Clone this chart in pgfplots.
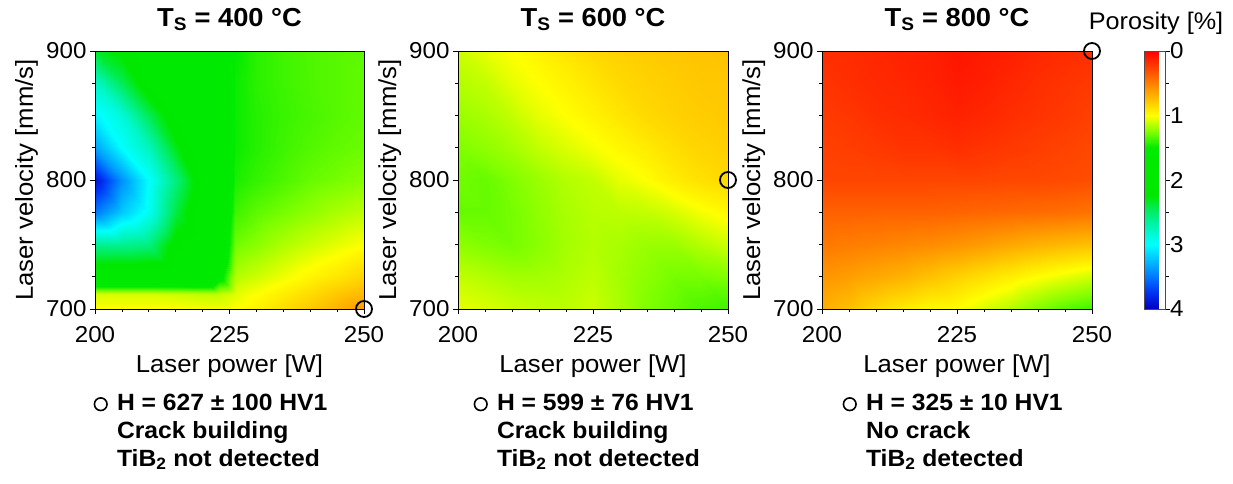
\documentclass[border=0pt]{standalone}
\usepackage{fontspec}
\setmainfont{Liberation Sans}[FakeStretch=1.05]
\usepackage{pgfplots}
\usepackage{pgfplotstable}
\pgfplotsset{compat=1.18}

\pgfplotsset{
  colormap={poro}{rgb255(0cm)=(255,0,0) rgb255(1cm)=(255,64,0) rgb255(2cm)=(255,128,0)
    rgb255(3cm)=(255,192,0) rgb255(4cm)=(255,255,0) rgb255(5cm)=(128,255,0)
    rgb255(6cm)=(0,235,0) rgb255(7cm)=(0,234,0) rgb255(8cm)=(0,233,0)
    rgb255(9cm)=(0,232,0) rgb255(10cm)=(0,238,107) rgb255(11cm)=(0,246,189)
    rgb255(12cm)=(0,255,255) rgb255(13cm)=(0,188,255) rgb255(14cm)=(0,120,255)
    rgb255(15cm)=(0,49,243) rgb255(16cm)=(0,0,190)},
  /pgf/number format/assume math mode=true,
  /pgf/number format/1000 sep={},
  tick label style={font=\fontsize{23}{23}\selectfont},
}

% T_S = 400 C
\pgfplotstableread{
x y z
200 700 1.00
205 700 1.00
210 700 1.00
215 700 1.00
220 700 1.02
223 700 1.03
226 700 1.00
230 700 0.95
235 700 0.87
240 700 0.79
245 700 0.70
250 700 0.60
200 712 1.08
205 712 1.08
210 712 1.08
215 712 1.10
220 712 1.12
223 712 1.12
226 712 1.06
230 712 1.00
235 712 0.93
240 712 0.86
245 712 0.78
250 712 0.72
200 725 2.00
205 725 2.00
210 725 2.00
215 725 2.00
220 725 2.00
223 725 1.60
226 725 1.15
230 725 1.10
235 725 1.03
240 725 0.96
245 725 0.90
250 725 0.83
200 750 2.60
205 750 2.60
210 750 2.55
215 750 2.15
220 750 2.00
223 750 1.85
226 750 1.28
230 750 1.23
235 750 1.16
240 750 1.10
245 750 1.05
250 750 1.00
200 775 3.50
205 775 3.20
210 775 2.95
215 775 2.40
220 775 2.00
223 775 1.90
226 775 1.38
230 775 1.32
235 775 1.27
240 775 1.22
245 775 1.17
250 775 1.13
200 800 3.90
205 800 3.40
210 800 3.00
215 800 2.55
220 800 2.10
223 800 1.90
226 800 1.45
230 800 1.40
235 800 1.35
240 800 1.30
245 800 1.27
250 800 1.24
200 825 3.35
205 825 3.00
210 825 2.75
215 825 2.30
220 825 2.00
223 825 1.88
226 825 1.48
230 825 1.43
235 825 1.38
240 825 1.34
245 825 1.31
250 825 1.29
200 850 3.05
205 850 2.85
210 850 2.45
215 850 2.10
220 850 2.00
223 850 1.85
226 850 1.48
230 850 1.43
235 850 1.39
240 850 1.36
245 850 1.33
250 850 1.31
200 875 2.80
205 875 2.45
210 875 2.10
215 875 2.00
220 875 1.95
223 875 1.85
226 875 1.48
230 875 1.42
235 875 1.38
240 875 1.35
245 875 1.33
250 875 1.31
200 900 2.35
205 900 2.20
210 900 2.05
215 900 2.00
220 900 1.95
223 900 1.85
226 900 1.50
230 900 1.42
235 900 1.38
240 900 1.35
245 900 1.33
250 900 1.32
}\tA

% T_S = 600 C
\pgfplotstableread{
x y z
200 700 1.05
205 700 1.07
210 700 1.10
215 700 1.12
220 700 1.13
225 700 1.10
230 700 1.17
235 700 1.25
240 700 1.30
245 700 1.35
250 700 1.38
200 725 1.12
205 725 1.15
210 725 1.18
215 725 1.18
220 725 1.16
225 725 1.13
230 725 1.18
235 725 1.23
240 725 1.27
245 725 1.27
250 725 1.25
200 750 1.22
205 750 1.25
210 750 1.27
215 750 1.23
220 750 1.18
225 750 1.15
230 750 1.17
235 750 1.20
240 750 1.20
245 750 1.15
250 750 1.10
200 775 1.30
205 775 1.30
210 775 1.27
215 775 1.22
220 775 1.17
225 775 1.14
230 775 1.13
235 775 1.12
240 775 1.08
245 775 1.02
250 775 0.97
200 800 1.28
205 800 1.30
210 800 1.25
215 800 1.20
220 800 1.15
225 800 1.12
230 800 1.05
235 800 1.00
240 800 0.93
245 800 0.88
250 800 0.85
200 825 1.25
205 825 1.22
210 825 1.18
215 825 1.12
220 825 1.07
225 825 1.02
230 825 0.97
235 825 0.92
240 825 0.87
245 825 0.83
250 825 0.81
200 850 1.20
205 850 1.17
210 850 1.12
215 850 1.05
220 850 1.00
225 850 0.95
230 850 0.90
235 850 0.85
240 850 0.82
245 850 0.80
250 850 0.79
200 875 1.15
205 875 1.12
210 875 1.05
215 875 1.00
220 875 0.95
225 875 0.90
230 875 0.85
235 875 0.82
240 875 0.80
245 875 0.78
250 875 0.78
200 900 1.10
205 900 1.05
210 900 1.00
215 900 0.95
220 900 0.90
225 900 0.85
230 900 0.82
235 900 0.80
240 900 0.78
245 900 0.77
250 900 0.76
}\tB

% T_S = 800 C
\pgfplotstableread{
x y z
200 700 0.68
205 700 0.75
210 700 0.85
215 700 0.92
220 700 0.98
225 700 1.00
230 700 1.08
235 700 1.15
240 700 1.25
245 700 1.33
250 700 1.38
200 725 0.58
205 725 0.62
210 725 0.66
215 725 0.70
220 725 0.76
225 725 0.82
230 725 0.88
235 725 0.94
240 725 1.00
245 725 1.05
250 725 1.10
200 750 0.47
205 750 0.49
210 750 0.51
215 750 0.53
220 750 0.55
225 750 0.58
230 750 0.62
235 750 0.66
240 750 0.70
245 750 0.73
250 750 0.76
200 775 0.38
205 775 0.38
210 775 0.38
215 775 0.38
220 775 0.38
225 775 0.39
230 775 0.40
235 775 0.41
240 775 0.42
245 775 0.43
250 775 0.45
200 800 0.27
205 800 0.27
210 800 0.27
215 800 0.27
220 800 0.27
225 800 0.27
230 800 0.27
235 800 0.28
240 800 0.28
245 800 0.29
250 800 0.30
200 825 0.25
205 825 0.24
210 825 0.22
215 825 0.20
220 825 0.20
225 825 0.18
230 825 0.20
235 825 0.22
240 825 0.24
245 825 0.26
250 825 0.28
200 850 0.23
205 850 0.21
210 850 0.18
215 850 0.17
220 850 0.15
225 850 0.13
230 850 0.15
235 850 0.18
240 850 0.20
245 850 0.22
250 850 0.25
200 875 0.20
205 875 0.18
210 875 0.16
215 875 0.15
220 875 0.13
225 875 0.10
230 875 0.12
235 875 0.15
240 875 0.18
245 875 0.20
250 875 0.22
200 900 0.18
205 900 0.17
210 900 0.15
215 900 0.13
220 900 0.12
225 900 0.08
230 900 0.10
235 900 0.12
240 900 0.15
245 900 0.17
250 900 0.18
}\tC

\pgfplotsset{
  myax/.style={
    scale only axis, height=258pt,
    xmin=200, xmax=250, ymin=700, ymax=900,
    xtick={200,225,250}, ytick={700,800,900},
    minor x tick num=4, minor y tick num=3,
    tick align=outside, xtick pos=left, ytick pos=left,
    major tick length=5pt, minor tick length=3pt,
    tick style={black, line width=0.8pt},
    axis line style={black, line width=0.8pt},
    xticklabel style={yshift=-9pt},
    colormap name=poro, point meta min=0, point meta max=4,
    clip=false, axis on top,
    label style={font=\fontsize{24.5}{24.5}\selectfont},
    xlabel={Laser power [W]}, ylabel={Laser velocity [mm/s]},
    xlabel style={at={([yshift=-63pt]axis description cs:0.5,0)}, anchor=base},
    ylabel style={at={([xshift=-62pt]axis description cs:0,0.5)}, anchor=base},
    title style={at={([yshift=19pt]axis description cs:0.5,1)}, anchor=base,
      font=\bfseries\fontsize{26}{26}\selectfont},
    legend cell align=left,
    legend style={anchor=north west, draw=none, fill=none,
      font=\bfseries\fontsize{23.5}{23.5}\selectfont,
      row sep=2pt, inner sep=0pt,
      nodes={text height=17pt, text depth=5pt, inner sep=2pt},
      /tikz/every odd column/.append style={column sep=8pt}},
  },
  surfst/.style={surf, shader=interp, mesh/cols=#1, point meta=explicit, forget plot},
  ptst/.style={only marks, mark=o, mark size=8pt, line width=1.8pt, black, forget plot},
  lgimg/.style={only marks, mark=o, mark size=6.3pt, line width=1.6pt, black},
}

\begin{document}
\begin{tikzpicture}
\path[use as bounding box] (0,0) rectangle (1233pt,483pt);

\begin{axis}[myax, width=269pt, at={(95pt,174pt)}, anchor=south west,
  title={T\textsubscript{S} = 400 °C},
  legend style={at={([xshift=-3pt,yshift=-82pt]axis description cs:0,0)}}]
\addplot[surfst=12] table[x=x, y=y, meta=z] {\tA};
\addplot[ptst] coordinates {(250,700)};
\addlegendimage{lgimg}
\addlegendentry{H = 627 ± 100 HV1}
\addlegendimage{empty legend}
\addlegendentry{Crack building}
\addlegendimage{empty legend}
\addlegendentry{TiB\textsubscript{2} not detected}
\end{axis}

\begin{axis}[myax, width=270pt, at={(458pt,174pt)}, anchor=south west,
  title={T\textsubscript{S} = 600 °C},
  legend style={at={([xshift=14pt,yshift=-82pt]axis description cs:0,0)}}]
\addplot[surfst=11] table[x=x, y=y, meta=z] {\tB};
\addplot[ptst] coordinates {(250,800)};
\addlegendimage{lgimg}
\addlegendentry{H = 599 ± 76 HV1}
\addlegendimage{empty legend}
\addlegendentry{Crack building}
\addlegendimage{empty legend}
\addlegendentry{TiB\textsubscript{2} not detected}
\end{axis}

\begin{axis}[myax, width=270pt, at={(822pt,174pt)}, anchor=south west,
  title={T\textsubscript{S} = 800 °C},
  legend style={at={([xshift=19pt,yshift=-82pt]axis description cs:0,0)}},
  colorbar,
  colorbar style={scale only axis, width=21pt, height=258pt,
    at={(parent axis.north east)}, anchor=north west, xshift=44pt,
    y dir=reverse, ytick={0,1,2,3,4}, minor ytick={0.5,1.5,2.5,3.5},
    tick align=outside, ytick pos=right, yticklabel pos=right,
    major tick length=4pt, minor tick length=3pt,
    tick style={black, line width=0.8pt},
    axis line style={black!70, line width=0.8pt},
    yticklabel style={xshift=-3pt}}]
\addplot[surfst=11] table[x=x, y=y, meta=z] {\tC};
\addplot[ptst] coordinates {(250,900)};
\addlegendimage{lgimg}
\addlegendentry{H = 325 ± 10 HV1}
\addlegendimage{empty legend}
\addlegendentry{No crack}
\addlegendimage{empty legend}
\addlegendentry{TiB\textsubscript{2} detected}
\end{axis}

\node[anchor=base, font=\fontsize{24}{24}\selectfont] at (1156pt,453pt) {Porosity [\%]};
\end{tikzpicture}
\end{document}
